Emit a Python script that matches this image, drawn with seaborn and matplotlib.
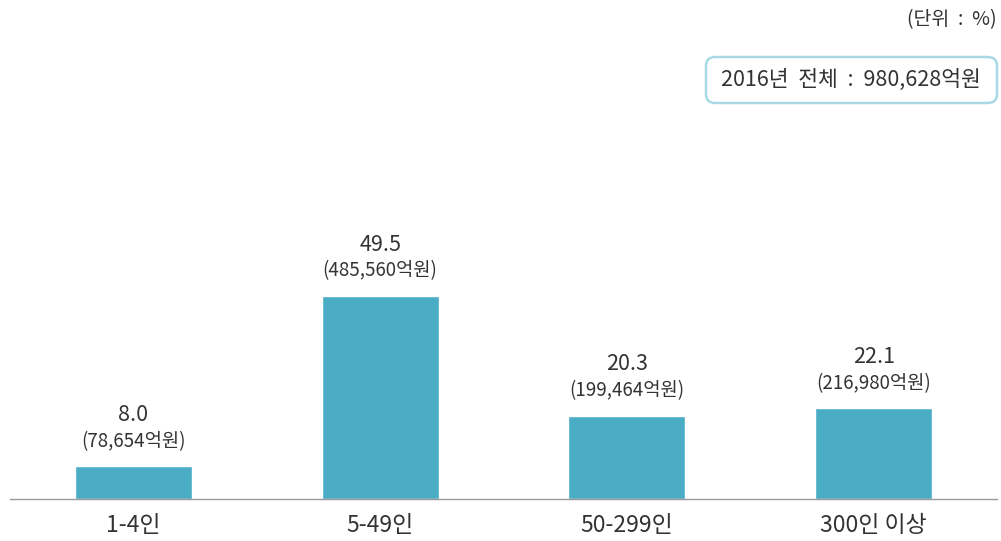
import matplotlib
matplotlib.use("Agg")
import matplotlib.pyplot as plt
from matplotlib.patches import FancyBboxPatch
import seaborn as sns
import pandas as pd

categories = ["1-4인", "5-49인", "50-299인", "300인 이상"]
shares = [8.0, 49.5, 20.3, 22.1]
amounts = ["78,654", "485,560", "199,464", "216,980"]
unit_text = "(단위  :  %)"
total_text = "2016년  전체  :  980,628억원"

sns.set_theme(style="white")
plt.rcParams['font.family'] = ['Noto Sans CJK KR', 'DejaVu Sans']

df = pd.DataFrame({"cat": categories, "share": shares})

fig = plt.figure(figsize=(10.01, 5.41), dpi=100)
ax = fig.add_axes([10/1001, 42/541, 987/1001, 499/541])
sns.barplot(data=df, x="cat", y="share", color="#4BACC6", saturation=1,
            width=0.474, ax=ax)
ax.set_xlim(-0.5, 3.5)
ax.set_ylim(0, 121.7)
ax.set_xlabel("")
ax.set_ylabel("")
ax.set_yticks([])
for s in ["top", "left", "right"]:
    ax.spines[s].set_visible(False)
ax.spines["bottom"].set_color("#999999")
ax.spines["bottom"].set_linewidth(1)
ax.tick_params(axis="x", length=0, pad=11, labelsize=16.5, colors="#333333")

for i, (v, a) in enumerate(zip(shares, amounts)):
    ax.annotate(f"{v:.1f}", (i, v), xytext=(0, 37), textcoords="offset points",
                ha="center", va="center", fontsize=15.5, color="#333333")
    ax.annotate(f"({a}억원)", (i, v), xytext=(0, 18), textcoords="offset points",
                ha="center", va="center", fontsize=13.5, color="#333333")

fig.text(997/1001, 1 - 20/541, unit_text, ha="right", va="center",
         fontsize=14, color="#333333")

W, H = 1001, 541
box = FancyBboxPatch((706/W, 1 - 103/H), 291/W, 46/H,
                     boxstyle="round,pad=0,rounding_size=0.009",
                     transform=fig.transFigure, fc="white", ec="#A9D8E5",
                     lw=1.8, mutation_aspect=W/H)
fig.patches.append(box)
fig.text(851/W, 1 - 80/H, total_text, ha="center", va="center",
         fontsize=15.5, color="#333333")

fig.savefig("out.png", dpi=100)
